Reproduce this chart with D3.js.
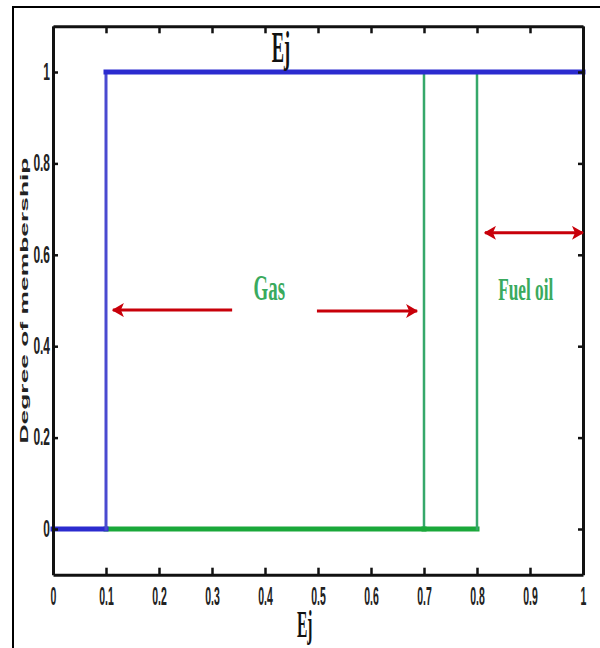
<!DOCTYPE html>
<html>
<head>
<meta charset="utf-8">
<script src="https://cdn.jsdelivr.net/npm/d3@7"></script>
<style>
  html, body { margin: 0; padding: 0; background: #fff; }
  svg { display: block; }
</style>
</head>
<body>
<svg id="chart" width="600" height="648"></svg>
<script>
// ---- data ----
const xTicks = [0, 0.1, 0.2, 0.3, 0.4, 0.5, 0.6, 0.7, 0.8, 0.9, 1];
const yTicks = [0, 0.2, 0.4, 0.6, 0.8, 1];
const xTickLabels = ["0", "0.1", "0.2", "0.3", "0.4", "0.5", "0.6", "0.7", "0.8", "0.9", "1"];
const yTickLabels = ["0", "0.2", "0.4", "0.6", "0.8", "1"];
// blue step function
const blueX = [0, 0.1, 0.1, 1];
const blueY = [0, 0, 1, 1];
// green (gas / fuel oil boundaries)
const gasX = [0.1, 0.7, 0.7];
const gasY = [0, 0, 1];
const fuelX = [0.7, 0.8, 0.8];
const fuelY = [0, 0, 1];
// annotations
const labelNames = ["Gas", "Fuel oil"];
const labelX = [0.408, 0.892];
const labelY = [0.501, 0.501];
const arrowX1 = [0.338, 0.498, 0.815];
const arrowX2 = [0.113, 0.687, 1.0];
const arrowY = [0.479, 0.477, 0.648];
const arrowDouble = [false, false, true];
const xTitle = "Ej";
const topTitle = "Ej";
const yTitle = "Degree of membership";

// ---- layout ----
const svg = d3.select("#chart");
const x = d3.scaleLinear().domain([0, 1]).range([53, 583]);
const y = d3.scaleLinear().domain([-0.1, 1.1]).range([574.7, 26.3]);

// outer frame
svg.append("path")
  .attr("d", "M13,660 L13,7 L620,7")
  .attr("fill", "none").attr("stroke", "#000").attr("stroke-width", 2);

const defs = svg.append("defs");
defs.append("marker").attr("id", "ah")
  .attr("viewBox", "0 0 12 14").attr("refX", 11).attr("refY", 7)
  .attr("markerWidth", 12).attr("markerHeight", 14).attr("markerUnits", "userSpaceOnUse")
  .attr("orient", "auto-start-reverse")
  .append("path").attr("d", "M0,0 L12,7 L0,14 L3,7 Z").attr("fill", "#c8000a");

// series drawn as segments (horizontal segments a bit thicker)
function drawSteps(xs, ys, color, wH, wV) {
  const pts = xs.map((v, i) => [v, ys[i]]);
  for (let i = 0; i < pts.length - 1; i++) {
    const a = pts[i], b = pts[i + 1];
    const horiz = a[1] === b[1];
    svg.append("line")
      .attr("x1", x(a[0])).attr("y1", y(a[1]))
      .attr("x2", x(b[0])).attr("y2", y(b[1]))
      .attr("stroke", horiz ? color[0] : color[1])
      .attr("stroke-width", horiz ? wH : wV)
      .attr("stroke-linecap", "square");
  }
}
drawSteps(gasX, gasY, ["#1aa83a", "#35a86a"], 5, 2.5);
drawSteps(fuelX, fuelY, ["#1aa83a", "#35a86a"], 5, 2.5);
drawSteps(blueX, blueY, ["#2b2bcf", "#4a4ad0"], 5, 3);

// axes box
const gAx = svg.append("g");
const axBottom = d3.axisBottom(x).tickValues(xTicks).tickSizeInner(-7).tickSizeOuter(0)
  .tickFormat((d, i) => xTickLabels[i]).tickPadding(24);
const axTop = d3.axisTop(x).tickValues(xTicks).tickSizeInner(-7).tickSizeOuter(0).tickFormat("");
const axLeft = d3.axisLeft(y).tickValues(yTicks).tickSizeInner(-5).tickSizeOuter(0)
  .tickFormat((d, i) => yTickLabels[i]).tickPadding(3);
const axRight = d3.axisRight(y).tickValues(yTicks).tickSizeInner(-5).tickSizeOuter(0).tickFormat("");

const gb = gAx.append("g").attr("transform", `translate(0,${y(-0.1)})`).call(axBottom);
const gt = gAx.append("g").attr("transform", `translate(0,${y(1.1)})`).call(axTop);
const gl = gAx.append("g").attr("transform", `translate(${x(0)},0)`).call(axLeft);
const gr = gAx.append("g").attr("transform", `translate(${x(1)},0)`).call(axRight);
[gb, gt, gl, gr].forEach(g => {
  g.attr("font-family", null).attr("font-size", null);
  g.select(".domain").attr("stroke", "#111").attr("stroke-width", 3);
  g.selectAll(".tick line").attr("stroke", "#111").attr("stroke-width", 2.5);
});
gb.selectAll(".tick text")
  .style("font-family", "'Liberation Sans', Arial, sans-serif").style("font-size", "25px").style("font-weight", "bold")
  .attr("fill", "#222").attr("dy", "0.25em")
  .attr("transform", "scale(0.42,1)");
gl.selectAll(".tick text")
  .style("font-family", "'Liberation Sans', Arial, sans-serif").style("font-size", "23px").style("font-weight", "bold")
  .attr("fill", "#222")
  .each(function () {
    const t = d3.select(this);
    const xx = +t.attr("x");
    t.attr("x", xx / 0.52).attr("transform", "scale(0.52,1)");
  });

// titles
svg.append("text").text(topTitle)
  .attr("transform", `translate(${x(0.43)},62) scale(0.42,1)`)
  .attr("text-anchor", "middle")
  .attr("font-family", "Liberation Serif, Times New Roman, serif").attr("font-weight", "bold")
  .attr("font-size", 44).attr("fill", "#111");
svg.append("text").text(xTitle)
  .attr("transform", `translate(${x(0.475)},637) scale(0.42,1)`)
  .attr("text-anchor", "middle")
  .attr("font-family", "Liberation Serif, Times New Roman, serif").attr("font-weight", "bold")
  .attr("font-size", 37).attr("fill", "#111");
svg.append("text").text(yTitle)
  .attr("transform", `translate(28,${y(0.5)}) rotate(-90)`)
  .attr("text-anchor", "middle")
  .attr("font-family", "Liberation Sans, Arial, sans-serif").attr("font-weight", "bold")
  .attr("font-size", 11).attr("fill", "#222")
  .attr("textLength", 286).attr("lengthAdjust", "spacingAndGlyphs");

// annotations
labelNames.forEach((name, i) => {
  svg.append("text").text(name)
    .attr("transform", `translate(${x(labelX[i])},${y(labelY[i])}) scale(0.54,1)`)
    .attr("text-anchor", "middle")
    .attr("font-family", "Liberation Serif, Times New Roman, serif").attr("font-weight", "bold")
    .attr("font-size", i === 0 ? 35 : 32).attr("fill", "#3aaa5e");
});
arrowX1.forEach((x1, i) => {
  const ln = svg.append("line")
    .attr("x1", x(x1)).attr("y1", y(arrowY[i]))
    .attr("x2", x(arrowX2[i])).attr("y2", y(arrowY[i]))
    .attr("stroke", "#c8000a").attr("stroke-width", 3)
    .attr("marker-end", "url(#ah)");
  if (arrowDouble[i]) ln.attr("marker-start", "url(#ah)");
});
</script>
</body>
</html>
